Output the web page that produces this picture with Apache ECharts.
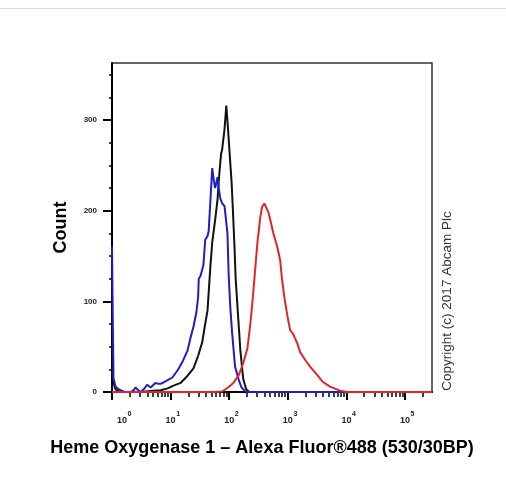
<!DOCTYPE html>
<html lang="en">
<head>
<meta charset="UTF-8">
<title>Heme Oxygenase 1 flow histogram</title>
<script src="https://cdn.jsdelivr.net/npm/echarts@6/dist/echarts.min.js"></script>
<style>
  html, body { margin: 0; padding: 0; background: #fff; }
  #chart { width: 506px; height: 481px; }
</style>
</head>
<body>
<div id="chart"></div>
<script>
// x = decade (log10 of fluorescence), y = event count
var decadeTicks = [0, 1, 2, 3, 4, 5];
var minorMultipliers = [2, 3, 4, 5, 6, 7, 8, 9];
var countTicks = [0, 100, 200, 300];
var countMinorTicks = [25, 50, 75, 125, 150, 175, 225, 250, 275, 325, 350];
var xMax = 5.46;
var yMax = 363;

var unlabelledCtrl = [
  [0, 24], [0.026, 10], [0.06, 3], [0.11, 1], [0.23, 0], [0.49, 0], [0.66, 1], [0.83, 2],
  [0.95, 4], [1.05, 7], [1.17, 10], [1.29, 18], [1.39, 26], [1.47, 40], [1.54, 55], [1.59, 75],
  [1.63, 90], [1.68, 140], [1.71, 165], [1.76, 190], [1.80, 212], [1.83, 240], [1.86, 262],
  [1.88, 268], [1.92, 290], [1.95, 316], [1.98, 290], [2.00, 270], [2.04, 232], [2.06, 205],
  [2.09, 160], [2.11, 125], [2.14, 95], [2.19, 46], [2.24, 14], [2.29, 3], [2.34, 0], [5.46, 0]
];
var isotypeCtrl = [
  [0, 160], [0.017, 60], [0.026, 15], [0.06, 6], [0.11, 3], [0.14, 2], [0.21, 0], [0.32, 0],
  [0.37, 2], [0.40, 5], [0.45, 2], [0.49, 0], [0.54, 3], [0.60, 8], [0.66, 5], [0.69, 5],
  [0.74, 10], [0.79, 9], [0.83, 9], [0.89, 11], [0.95, 13], [1.03, 16], [1.12, 24], [1.20, 33],
  [1.29, 46], [1.34, 60], [1.39, 72], [1.44, 88], [1.47, 105], [1.48, 125], [1.51, 128],
  [1.56, 140], [1.59, 168], [1.63, 172], [1.65, 178], [1.68, 212], [1.71, 247], [1.74, 232],
  [1.76, 225], [1.80, 237], [1.82, 225], [1.85, 213], [1.88, 208], [1.92, 205], [1.93, 203],
  [1.97, 175], [1.99, 130], [2.02, 92], [2.05, 65], [2.07, 50], [2.10, 28], [2.16, 14],
  [2.21, 5], [2.27, 1], [2.32, 0], [5.46, 0]
];
var ho1Stained = [
  [0, 0], [1.76, 0], [1.88, 0.5], [1.98, 5], [2.07, 10], [2.16, 18], [2.24, 32], [2.31, 48],
  [2.36, 75], [2.39, 95], [2.43, 125], [2.48, 164], [2.53, 193], [2.56, 204], [2.60, 208],
  [2.63, 209], [2.67, 198], [2.70, 190], [2.75, 176], [2.82, 160], [2.87, 145], [2.90, 125],
  [2.94, 105], [2.99, 85], [3.04, 68], [3.09, 64], [3.16, 54], [3.21, 44], [3.30, 35],
  [3.38, 28], [3.50, 19], [3.60, 11], [3.72, 6], [3.89, 1.5], [4.01, 0], [5.46, 0]
];

var xTitle = 'Heme Oxygenase 1 \u2013 Alexa Fluor\u00ae488 (530/30BP)';
var yTitle = 'Count';
var copyrightText = 'Copyright (c) 2017 Abcam Plc';

var fontFamily = '"Liberation Sans", Arial, sans-serif';

function minorDecadeTicks() {
  var vals = [];
  decadeTicks.forEach(function (d) {
    minorMultipliers.forEach(function (m) {
      var v = d + Math.log10(m);
      if (v <= xMax) vals.push(v);
    });
  });
  return vals;
}

var chart = echarts.init(document.getElementById('chart'));

var option = {
  animation: false,
  backgroundColor: '#fff',
  grid: {
    left: 112, right: 74, top: 63, bottom: 89,
    show: true, borderColor: '#333', borderWidth: 1.5
  },
  xAxis: [{
    type: 'value', min: 0, max: xMax,
    name: xTitle, nameLocation: 'middle', nameGap: 47,
    nameTextStyle: { fontSize: 18, fontWeight: 'bold', color: '#000', fontFamily: fontFamily, padding: [0, 20, 0, 0] },
    axisLine: { onZero: false, lineStyle: { color: '#000', width: 2 } },
    axisTick: { customValues: decadeTicks, length: 8, lineStyle: { color: '#000', width: 2 } },
    axisLabel: {
      customValues: decadeTicks, margin: 19,
      formatter: function (v) {
        var e = Math.round(v);
        return (e === 0 ? '{pad0|}' : '{pad|}') + '{b|10}{s|' + e + '}';
      },
      rich: {
        b: { fontSize: 9, fontWeight: 'bold', color: '#222', fontFamily: fontFamily },
        s: { fontSize: 7, fontWeight: 'bold', color: '#222', fontFamily: fontFamily, width: 5, padding: [0, 0, 12, 0] },
        pad: { width: 5 },
        pad0: { width: 25 }
      }
    },
    splitLine: { show: false }
  }, {
    type: 'value', min: 0, max: xMax, position: 'bottom',
    axisLine: { show: false, onZero: false },
    axisTick: { customValues: minorDecadeTicks(), length: 5, lineStyle: { color: '#000', width: 1.5 } },
    axisLabel: { show: false },
    splitLine: { show: false }
  }],
  yAxis: [{
    type: 'value', min: 0, max: yMax,
    name: yTitle, nameLocation: 'middle', nameGap: 42, nameRotate: 90,
    nameTextStyle: { fontSize: 18, fontWeight: 'bold', color: '#000', fontFamily: fontFamily },
    axisLine: { show: true, onZero: false, lineStyle: { color: '#000', width: 2 } },
    axisTick: { show: true, customValues: countTicks, length: 9, lineStyle: { color: '#000', width: 2 } },
    axisLabel: { customValues: countTicks, margin: 15, fontSize: 8, fontWeight: 'bold', color: '#222', fontFamily: fontFamily },
    splitLine: { show: false }
  }, {
    type: 'value', min: 0, max: yMax, position: 'left',
    axisLine: { show: false, onZero: false },
    axisTick: { show: true, customValues: countMinorTicks, length: 3, lineStyle: { color: '#000', width: 1.5 } },
    axisLabel: { show: false },
    splitLine: { show: false }
  }],
  graphic: [
    {
      type: 'line', silent: true,
      shape: { x1: 0, y1: 8.5, x2: 506, y2: 8.5 },
      style: { stroke: '#dcdcdc', lineWidth: 1 }
    },
    {
      type: 'text', silent: true, x: 447, y: 301, rotation: Math.PI / 2,
      style: {
        text: copyrightText, font: '13.5px ' + fontFamily, fill: '#333',
        textAlign: 'center', textVerticalAlign: 'middle', align: 'center', verticalAlign: 'middle'
      }
    }
  ],
  series: [
    {
      name: 'Unlabelled control', type: 'line', data: unlabelledCtrl,
      showSymbol: false, silent: true,
      lineStyle: { color: '#111', width: 2 }, itemStyle: { color: '#111' }
    },
    {
      name: 'Isotype control', type: 'line', data: isotypeCtrl,
      showSymbol: false, silent: true,
      lineStyle: { color: '#1f1fc0', width: 2 }, itemStyle: { color: '#1f1fc0' }
    },
    {
      name: 'Heme Oxygenase 1', type: 'line', data: ho1Stained,
      showSymbol: false, silent: true,
      lineStyle: { color: '#e0262a', width: 2 }, itemStyle: { color: '#e0262a' }
    }
  ]
};

chart.setOption(option);
</script>
</body>
</html>
